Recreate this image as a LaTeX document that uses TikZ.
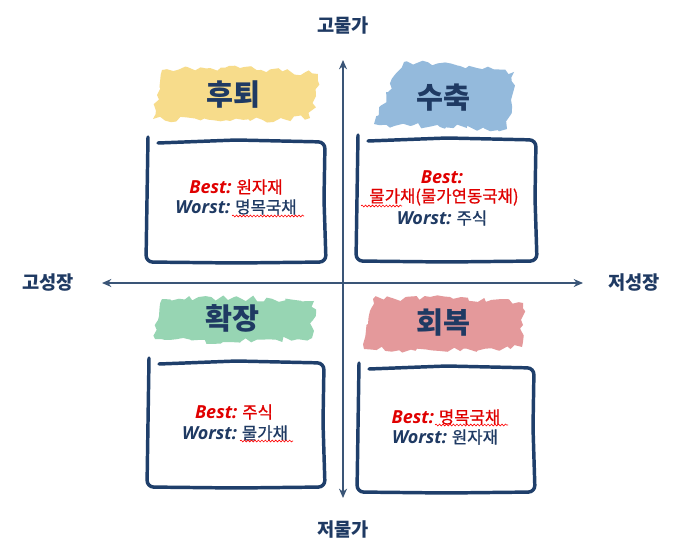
\documentclass[tikz,border=0pt]{standalone}
\usepackage{fontspec}
\setmainfont{Open Sans}
\newfontfamily\kr{Noto Sans CJK KR}
\newfontfamily\krm[FakeBold=0.8]{Noto Sans CJK KR}
\newfontfamily\hand{Open Sans}
\usetikzlibrary{arrows.meta,decorations.pathmorphing}
\definecolor{navy}{HTML}{1F3A63}
\definecolor{boxc}{HTML}{1F3F6B}
\definecolor{axisc}{HTML}{3A5577}
\definecolor{bestred}{HTML}{E00000}
\definecolor{ylw}{HTML}{F7DC8B}
\definecolor{blu}{HTML}{94BADC}
\definecolor{grn}{HTML}{97D5B3}
\definecolor{pnk}{HTML}{E4999B}
\tikzset{
  axis/.style={draw=axisc, line width=1.1pt, {Stealth[length=7pt,width=6pt]}-{Stealth[length=7pt,width=6pt]}},
  axlabel/.style={font=\kr\bfseries\fontsize{14}{16}\selectfont, text=navy},
  title/.style={font=\kr\bfseries\fontsize{22}{26}\selectfont, text=navy},
  boxline/.style={draw=boxc, line width=2.6pt, rounded corners=5pt, line join=round, line cap=round},
  brush/.style={decorate, decoration={random steps, segment length=4pt, amplitude=2.2pt}},
  entry/.style={font=\krm\fontsize{12.5}{14}\selectfont, align=center, inner sep=0pt},
  squig/.style={draw=red, line width=0.45pt, decorate, decoration={snake, amplitude=0.7pt, segment length=2.6pt}}
}
\newcommand{\bestw}[1]{{\hand\fontsize{13.5}{15}\selectfont\itshape\bfseries\color{bestred}#1}}
\newcommand{\worstw}[1]{{\hand\fontsize{13.5}{15}\selectfont\itshape\bfseries\color{navy}#1}}
\newcommand{\handbox}[4]{%
  \draw[boxline] ({#1+11},{#2+6}) -- ({(#1+#3)/2},{#2+3}) -- ({#3-1},{#2+5}) -- ({#3-2},{(#2+#4)/2}) -- ({#3},{#4}) -- ({(#1+#3)/2},{#4+1}) -- ({#1-1},{#4}) -- ({#1},{(#2+#4)/2}) -- ({#1+1},{#2});}
\begin{document}
\begin{tikzpicture}[x=0.75pt,y=-0.75pt]
\pgfmathsetseed{7}
\useasboundingbox (0,0) rectangle (680,559);
\fill[white] (0,0) rectangle (680,559);

% brush highlights
\fill[ylw, brush] (162,70) -- (240,68) -- (318,74) -- (316,96) -- (310,118) -- (230,121) -- (153,119) -- (157,95) -- cycle;
\fill[blu, brush] (404,62) -- (460,66) -- (514,72) -- (511,100) -- (507,129) -- (440,127) -- (374,124) -- (388,92) -- cycle;
\fill[grn, brush] (162,299) -- (240,298) -- (314,301) -- (313,320) -- (312,338) -- (230,342) -- (155,339) -- (158,320) -- cycle;
\fill[pnk, brush] (373,299) -- (450,297) -- (523,303) -- (523,325) -- (522,347) -- (440,351) -- (364,349) -- (368,324) -- cycle;

% axes
\coordinate (top) at (343,60);
\coordinate (bot) at (343,498);
\coordinate (lft) at (102,283);
\coordinate (rgt) at (583,283);
\draw[axis] (top) -- (bot);
\draw[axis] (lft) -- (rgt);

\node[axlabel] (hiinf) at (343,25) {고물가};
\node[axlabel] (loinf) at (343,530) {저물가};
\node[axlabel] (higr) at (48,283) {고성장};
\node[axlabel] (logr) at (634,283) {저성장};

% boxes
\handbox{147}{137}{326}{262}
\handbox{357}{135}{537}{261}
\handbox{148}{358}{325}{487}
\handbox{358}{363}{535}{492}

% titles
\node[title] (t1) at (233,95) {후퇴};
\node[title] (t2) at (443,98) {수축};
\node[title] (t3) at (232,318) {확장};
\node[title] (t4) at (443,323) {회복};

% entries
\node[entry] (b1) at (236,187) {\bestw{Best:} {\color{bestred}원자재}};
\node[entry] (w1) at (236,207) {\worstw{Worst:} {\color{navy}명목국채}};
\node[entry] (b2) at (442,177) {\bestw{Best:}};
\node[entry] (b2b) at (444,197) {{\color{bestred}물가채(물가연동국채)}};
\node[entry] (w2) at (442,218) {\worstw{Worst:} {\color{navy}주식}};
\node[entry] (b3) at (234,412) {\bestw{Best:} {\color{bestred}주식}};
\node[entry] (w3) at (235,433) {\worstw{Worst:} {\color{navy}물가채}};
\node[entry] (b4) at (446,417) {\bestw{Best:} {\color{bestred}명목국채}};
\node[entry] (w4) at (445,437) {\worstw{Worst:} {\color{navy}원자재}};

% spell-check squiggles
\draw[squig] (232,216) -- (304,216);
\draw[squig] (361,206) -- (402,206);
\draw[squig] (240,441) -- (293,441);
\draw[squig] (435,425) -- (508,425);
\end{tikzpicture}
\end{document}
